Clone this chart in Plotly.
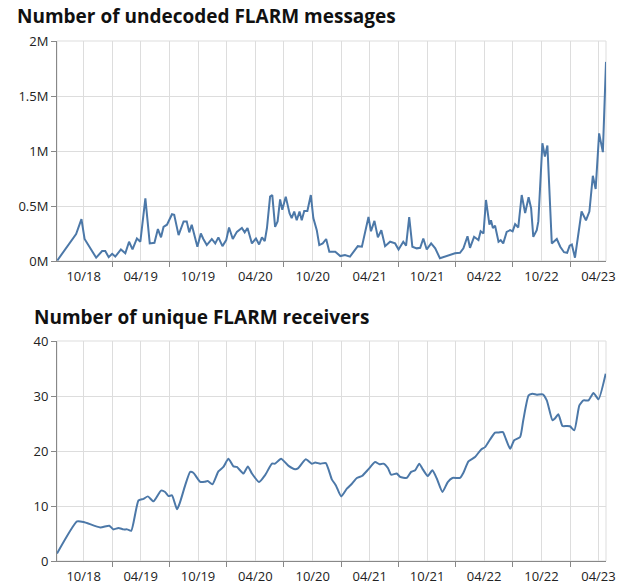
import plotly.graph_objects as go

# ---------------- data ----------------
msg_dates = [
    "2018-07-09", "2018-09-07", "2018-09-24", "2018-10-04", "2018-11-10", "2018-11-29",
    "2018-12-09", "2018-12-20", "2018-12-31", "2019-01-10", "2019-01-28", "2019-02-11",
    "2019-02-23", "2019-03-06", "2019-03-20", "2019-03-31", "2019-04-16", "2019-04-30",
    "2019-05-15", "2019-05-26", "2019-06-05", "2019-06-13", "2019-06-24", "2019-07-10",
    "2019-07-17", "2019-07-31", "2019-08-16", "2019-08-26", "2019-09-03", "2019-09-11",
    "2019-09-29", "2019-10-10", "2019-10-18", "2019-10-29", "2019-11-14", "2019-11-25",
    "2019-12-05", "2019-12-18", "2019-12-30", "2020-01-08", "2020-01-20", "2020-02-02",
    "2020-02-18", "2020-02-27", "2020-03-07", "2020-03-21", "2020-04-03", "2020-04-13",
    "2020-04-22", "2020-05-01", "2020-05-08", "2020-05-18", "2020-05-25", "2020-06-03",
    "2020-06-11", "2020-06-19", "2020-06-26", "2020-07-07", "2020-07-19", "2020-07-26",
    "2020-08-03", "2020-08-11", "2020-08-20", "2020-08-27", "2020-09-04", "2020-09-14",
    "2020-09-25", "2020-10-03", "2020-10-14", "2020-10-22", "2020-11-02", "2020-11-13",
    "2020-11-23", "2020-12-12", "2020-12-28", "2021-01-12", "2021-01-28", "2021-02-22",
    "2021-03-07", "2021-03-28", "2021-04-05", "2021-04-16", "2021-04-27", "2021-05-08",
    "2021-05-20", "2021-06-05", "2021-06-21", "2021-07-02", "2021-07-17", "2021-07-26",
    "2021-08-05", "2021-08-15", "2021-08-29", "2021-09-09", "2021-09-19", "2021-09-30",
    "2021-10-14", "2021-10-27", "2021-11-11", "2021-11-27", "2021-12-13", "2021-12-29",
    "2022-01-14", "2022-01-25", "2022-02-07", "2022-02-15", "2022-02-28", "2022-03-14",
    "2022-03-21", "2022-03-30", "2022-04-07", "2022-04-18", "2022-04-23", "2022-04-29",
    "2022-05-06", "2022-05-17", "2022-05-24", "2022-06-01", "2022-06-12", "2022-06-23",
    "2022-07-01", "2022-07-09", "2022-07-19", "2022-07-30", "2022-08-10", "2022-08-21",
    "2022-08-29", "2022-09-05", "2022-09-16", "2022-09-21", "2022-10-04", "2022-10-12",
    "2022-10-20", "2022-11-03", "2022-11-19", "2022-11-30", "2022-12-12", "2022-12-22",
    "2022-12-30", "2023-01-06", "2023-01-16", "2023-02-06", "2023-02-20", "2023-03-03",
    "2023-03-14", "2023-03-23", "2023-04-03", "2023-04-15", "2023-04-25",
]
msg_millions = [
    0.005, 0.245, 0.38, 0.20, 0.03, 0.09,
    0.09, 0.035, 0.065, 0.04, 0.105, 0.07,
    0.175, 0.105, 0.205, 0.175, 0.57, 0.16,
    0.165, 0.29, 0.215, 0.31, 0.33, 0.425,
    0.42, 0.235, 0.36, 0.36, 0.26, 0.33,
    0.13, 0.25, 0.20, 0.145, 0.20, 0.16,
    0.215, 0.135, 0.19, 0.305, 0.20, 0.265,
    0.30, 0.26, 0.30, 0.16, 0.205, 0.15,
    0.215, 0.18, 0.30, 0.585, 0.60, 0.31,
    0.36, 0.56, 0.465, 0.585, 0.435, 0.39,
    0.45, 0.37, 0.45, 0.37, 0.455, 0.455,
    0.60, 0.39, 0.28, 0.145, 0.16, 0.20,
    0.085, 0.085, 0.045, 0.055, 0.04, 0.135,
    0.13, 0.40, 0.27, 0.365, 0.215, 0.28,
    0.135, 0.175, 0.16, 0.105, 0.175, 0.14,
    0.40, 0.13, 0.115, 0.12, 0.205, 0.105,
    0.16, 0.115, 0.025, 0.04, 0.055, 0.07,
    0.075, 0.115, 0.225, 0.12, 0.22, 0.19,
    0.27, 0.25, 0.555, 0.33, 0.37, 0.30,
    0.32, 0.175, 0.19, 0.16, 0.265, 0.28,
    0.27, 0.335, 0.305, 0.60, 0.435, 0.58,
    0.48, 0.22, 0.28, 0.36, 1.07, 0.95,
    1.05, 0.16, 0.20, 0.13, 0.08, 0.075,
    0.14, 0.15, 0.03, 0.45, 0.37, 0.45,
    0.775, 0.655, 1.16, 0.99, 1.81,
]

rx_dates = [
    "2018-07-08", "2018-09-10", "2018-10-01", "2018-11-23", "2018-12-22", "2019-01-04",
    "2019-01-20", "2019-02-05", "2019-02-17", "2019-03-02", "2019-03-25", "2019-04-10",
    "2019-04-24", "2019-05-12", "2019-06-05", "2019-06-18", "2019-06-29", "2019-07-10",
    "2019-07-26", "2019-08-05", "2019-08-21", "2019-09-06", "2019-09-16", "2019-10-08",
    "2019-10-22", "2019-11-01", "2019-11-16", "2019-12-05", "2019-12-21", "2020-01-06",
    "2020-01-22", "2020-02-02", "2020-02-23", "2020-03-08", "2020-03-21", "2020-04-13",
    "2020-05-02", "2020-05-24", "2020-06-03", "2020-06-22", "2020-07-16", "2020-08-06",
    "2020-08-16", "2020-09-09", "2020-09-28", "2020-10-09", "2020-10-25", "2020-11-12",
    "2020-12-01", "2020-12-14", "2020-12-31", "2021-01-18", "2021-02-03", "2021-02-19",
    "2021-03-07", "2021-03-28", "2021-04-18", "2021-05-02", "2021-05-15", "2021-05-29",
    "2021-06-08", "2021-06-26", "2021-07-07", "2021-07-28", "2021-08-11", "2021-08-24",
    "2021-09-06", "2021-09-16", "2021-10-03", "2021-10-18", "2021-11-01", "2021-11-19",
    "2021-12-06", "2021-12-21", "2022-01-14", "2022-01-25", "2022-02-10", "2022-03-03",
    "2022-03-22", "2022-04-04", "2022-04-20", "2022-05-06", "2022-05-17", "2022-05-31",
    "2022-06-09", "2022-06-23", "2022-07-06", "2022-07-25", "2022-08-04", "2022-08-21",
    "2022-09-02", "2022-09-16", "2022-10-05", "2022-10-18", "2022-11-05", "2022-11-13",
    "2022-11-24", "2022-12-07", "2022-12-21", "2022-12-31", "2023-01-14", "2023-01-30",
    "2023-02-12", "2023-02-28", "2023-03-16", "2023-04-01", "2023-04-24",
]
rx_counts = [
    1.35, 7.2, 7.1, 6.1, 6.4, 5.75,
    6.0, 5.75, 5.75, 5.5, 11.0, 11.3,
    11.75, 10.85, 12.8, 12.55, 11.8, 11.95,
    9.4, 10.75, 13.75, 16.2, 16.05, 14.4,
    14.4, 14.55, 13.95, 16.3, 17.1, 18.6,
    17.2, 17.1, 15.9, 17.2, 15.9, 14.35,
    15.6, 17.7, 17.7, 18.6, 17.3, 16.7,
    16.9, 18.5, 17.7, 17.9, 17.7, 17.8,
    14.85, 13.75, 11.75, 13.15, 14.05, 15.1,
    15.45, 16.7, 18.0, 17.6, 17.7, 16.9,
    15.7, 15.9, 15.3, 15.1, 16.2, 16.5,
    17.7, 16.8, 15.45, 16.5, 15.0, 12.55,
    14.35, 15.1, 15.1, 16.05, 18.1, 18.9,
    20.25, 20.7, 22.1, 23.35, 23.35, 23.45,
    22.25, 20.4, 21.95, 22.55, 25.6, 30.1,
    30.4, 30.25, 30.3, 29.2, 25.6, 25.9,
    26.7, 24.55, 24.55, 24.5, 23.75, 28.3,
    29.2, 29.2, 30.55, 29.4, 34.05,
]

titles = ["Number of undecoded FLARM messages", "Number of unique FLARM receivers"]
msg_tickvals = [0, 0.5, 1, 1.5, 2]
msg_ticktext = ["0M", "0.5M", "1M", "1.5M", "2M"]
rx_tickvals = [0, 10, 20, 30, 40]

# ---------------- styling ----------------
FONT = "Open Sans"
LINE = "#4c78a8"
GRID = "#dddddd"
AXIS = "#888888"
W, H = 628, 587
ML, MR, MT, MB = 57, 22, 41, 26
PH = H - MT - MB

def frac(py):
    return 1 - (py - MT) / PH

fig = go.Figure()
fig.add_trace(go.Scatter(x=msg_dates, y=msg_millions, mode="lines",
                         line=dict(color=LINE, width=2), xaxis="x", yaxis="y",
                         hoverinfo="x+y"))
fig.add_trace(go.Scatter(x=rx_dates, y=rx_counts, mode="lines",
                         line=dict(color=LINE, width=2, shape="spline", smoothing=0.5),
                         xaxis="x2", yaxis="y2", hoverinfo="x+y"))

xrange = [min(msg_dates[0], rx_dates[0]), max(msg_dates[-1], rx_dates[-1])]

def xaxis_cfg(anchor):
    return dict(
        anchor=anchor, type="date", range=xrange, automargin=False,
        tick0="2018-10-01", dtick="M6", tickformat="%m/%y",
        showgrid=True, gridcolor=GRID, gridwidth=1,
        ticks="", ticklabelstandoff=3,
        showline=True, linecolor=AXIS, linewidth=1,
        zeroline=False,
        tickfont=dict(family=FONT, size=13, color="#222"),
        minor=dict(tick0="2018-07-01", dtick="M3", showgrid=True, gridcolor=GRID,
                   ticks="outside", ticklen=5, tickcolor=AXIS, tickwidth=1),
    )

def yaxis_cfg(anchor, dom, rng, vals, text=None):
    d = dict(
        anchor=anchor, domain=dom, range=rng, tickvals=vals, automargin=False,
        showgrid=True, gridcolor=GRID, zeroline=False,
        ticks="outside", ticklen=5, tickcolor=AXIS,
        showline=True, linecolor=AXIS, linewidth=1,
        tickfont=dict(family=FONT, size=13, color="#222"),
    )
    if text is not None:
        d["ticktext"] = text
    return d

fig.update_layout(
    width=W, height=H,
    margin=dict(l=ML, r=MR, t=MT, b=MB),
    paper_bgcolor="white", plot_bgcolor="white",
    showlegend=False,
    font=dict(family=FONT, color="#222"),
    xaxis=xaxis_cfg("y"),
    xaxis2=xaxis_cfg("y2"),
    yaxis=yaxis_cfg("x", [frac(261), 1], [0, 2], msg_tickvals, msg_ticktext),
    yaxis2=yaxis_cfg("x2", [0, frac(341)], [0, 40], rx_tickvals),
)

# view frames (light border around each plot area)
for xr, yr in (("x domain", "y domain"), ("x2 domain", "y2 domain")):
    fig.add_shape(type="rect", xref=xr, yref=yr, x0=0, x1=1, y0=0, y1=1,
                  line=dict(color=GRID, width=1), layer="below")

pw = W - ML - MR
fig.add_annotation(text="<b>" + titles[0] + "</b>", xref="paper", yref="paper",
                   x=(15 - ML) / pw, y=frac(24), xanchor="left", yanchor="bottom",
                   yshift=-7, showarrow=False,
                   font=dict(family=FONT, size=19, color="#111"))
fig.add_annotation(text="<b>" + titles[1] + "</b>", xref="paper", yref="paper",
                   x=(32 - ML) / pw, y=frac(323), xanchor="left", yanchor="bottom",
                   yshift=-9, showarrow=False,
                   font=dict(family=FONT, size=19, color="#111"))

fig.write_html("out.html", config={"displayModeBar": False},
               post_script="document.body.style.margin='0';document.body.style.overflow='hidden';")
